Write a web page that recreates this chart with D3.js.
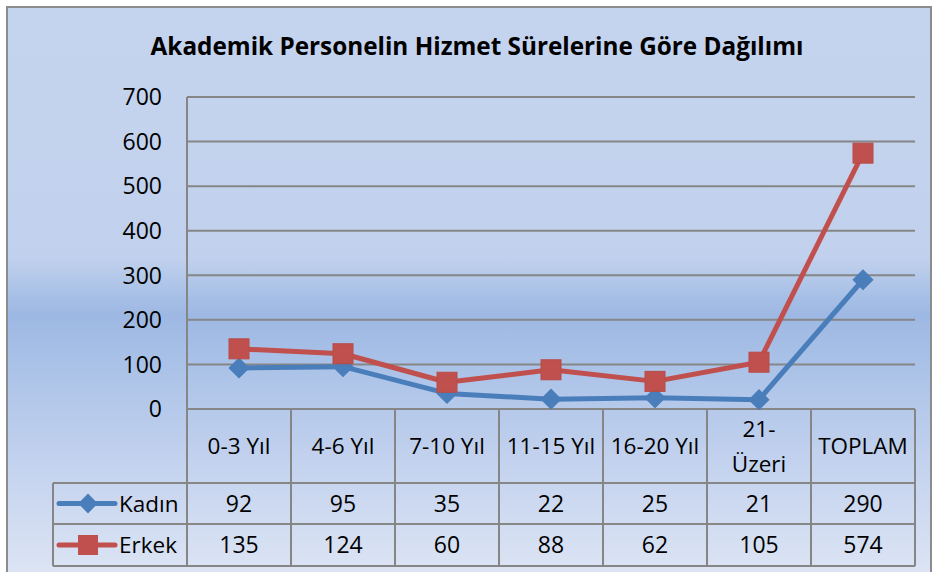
<!DOCTYPE html>
<html><head><meta charset="utf-8">
<script src="https://cdn.jsdelivr.net/npm/d3@7"></script>
<style>html,body{margin:0;padding:0;background:#fff}svg{display:block}</style>
</head><body>
<svg id="c" width="933" height="572"></svg>
<script>
const title = "Akademik Personelin Hizmet Sürelerine Göre Dağılımı";
const categories = ["0-3 Yıl","4-6 Yıl","7-10 Yıl","11-15 Yıl","16-20 Yıl","21-\nÜzeri","TOPLAM"];
const kadin = [92,95,35,22,25,21,290];
const erkek = [135,124,60,88,62,105,574];
const seriesNames = ["Kadın","Erkek"];
const seriesColors = ["#4A7EBB","#C0504D"];
const yTicks = [0,100,200,300,400,500,600,700];

const font = "'Open Sans', 'DejaVu Sans', sans-serif";
const svg = d3.select("#c");
const L = 187, R = 915, T = 97, B = 409;
const rowTop = 483, rowMid = 524, rowBot = 566, legLeft = 53;

// background gradient
const defs = svg.append("defs");
const g = defs.append("linearGradient").attr("id","bg").attr("x1",0).attr("y1",0).attr("x2",0).attr("y2",1);
[[0,"#C5D4EE"],[0.44,"#C1D1ED"],[0.51,"#A6BFE6"],[0.54,"#9DB8E3"],[0.62,"#A9C1E7"],[0.8,"#C3D2EE"],[1,"#DDE5F4"]]
  .forEach(([o,c])=>g.append("stop").attr("offset",o).attr("stop-color",c));

svg.append("rect").attr("x",7).attr("y",7).attr("width",924).attr("height",570)
  .attr("fill","url(#bg)").attr("stroke","#8C8C8C").attr("stroke-width",2);

// title
const tt = svg.append("text").attr("x",477).attr("y",55).attr("text-anchor","middle")
  .attr("font-family",font).attr("font-weight","bold").attr("font-size",22).attr("fill","#000").text(title);
const tl = tt.node().getComputedTextLength();
tt.attr("font-size", 22*653/tl);

const x = d3.scaleBand().domain(categories).range([L,R]);
const cx = c => x(c) + x.bandwidth()/2;
const y = d3.scaleLinear().domain([0,700]).range([B,T]);

const gridC = "#868686";
svg.append("g").selectAll("line").data(yTicks.filter(d=>d>0)).join("line")
  .attr("x1",L).attr("x2",R).attr("y1",d=>y(d)).attr("y2",d=>y(d))
  .attr("stroke",gridC).attr("stroke-width",2);

svg.append("g").selectAll("text").data(yTicks).join("text")
  .attr("x",162).attr("y",d=>y(d)).attr("dy","0.36em").attr("text-anchor","end")
  .attr("font-family",font).attr("font-size",23).attr("fill","#000").text(d=>d);

const tg = svg.append("g").attr("stroke",gridC).attr("stroke-width",2);
tg.append("line").attr("x1",L).attr("x2",R).attr("y1",B).attr("y2",B);
[rowTop,rowMid,rowBot].forEach(yy=>tg.append("line").attr("x1",legLeft).attr("x2",R).attr("y1",yy).attr("y2",yy));
tg.append("line").attr("x1",L).attr("x2",L).attr("y1",T).attr("y2",rowBot);
tg.append("line").attr("x1",legLeft).attr("x2",legLeft).attr("y1",rowTop).attr("y2",rowBot);
categories.forEach(c=>{
  tg.append("line").attr("x1",x(c)+x.bandwidth()).attr("x2",x(c)+x.bandwidth()).attr("y1",B).attr("y2",rowBot);
});

categories.forEach(c=>{
  const lines = c.split("\n");
  const t = svg.append("text").attr("x",cx(c)).attr("text-anchor","middle")
    .attr("font-family",font).attr("font-size",22.5).attr("fill","#000");
  const yc = (B+rowTop)/2;
  lines.forEach((ln,i)=>{
    t.append("tspan").attr("x",cx(c)).attr("y", yc + (i-(lines.length-1)/2)*35).attr("dy","0.36em").text(ln);
  });
});

const rows = [[kadin,(rowTop+rowMid)/2],[erkek,(rowMid+rowBot)/2]];
rows.forEach(([vals,yc])=>{
  svg.append("g").selectAll("text").data(vals).join("text")
    .attr("x",(d,i)=>cx(categories[i])).attr("y",yc).attr("dy","0.36em").attr("text-anchor","middle")
    .attr("font-family",font).attr("font-size",23).attr("fill","#000").text(d=>d);
});

const line = d3.line().x((d,i)=>cx(categories[i])).y(d=>y(d));
[kadin,erkek].forEach((vals,si)=>{
  svg.append("path").datum(vals).attr("d",line).attr("fill","none")
    .attr("stroke",seriesColors[si]).attr("stroke-width",5).attr("stroke-linejoin","round");
});
svg.append("g").selectAll("rect").data(kadin).join("rect")
  .attr("x",-7).attr("y",-7).attr("width",14).attr("height",14)
  .attr("transform",(d,i)=>`translate(${cx(categories[i])},${y(d)}) rotate(45)`)
  .attr("fill",seriesColors[0]).attr("stroke",seriesColors[0]).attr("stroke-width",1);
svg.append("g").selectAll("rect").data(erkek).join("rect")
  .attr("x",(d,i)=>cx(categories[i])-10).attr("y",d=>y(d)-10).attr("width",20).attr("height",20)
  .attr("fill",seriesColors[1]).attr("stroke","#B84A47").attr("stroke-width",1);

const legRows = [(rowTop+rowMid)/2,(rowMid+rowBot)/2];
legRows.forEach((yc,si)=>{
  svg.append("line").attr("x1",59).attr("x2",115).attr("y1",yc).attr("y2",yc)
    .attr("stroke",seriesColors[si]).attr("stroke-width",5).attr("stroke-linecap","round");
  if(si===0){
    svg.append("rect").attr("x",-7).attr("y",-7).attr("width",14).attr("height",14)
      .attr("transform",`translate(88,${yc}) rotate(45)`).attr("fill",seriesColors[0]);
  } else {
    svg.append("rect").attr("x",78).attr("y",yc-10).attr("width",20).attr("height",20).attr("fill",seriesColors[1]);
  }
  svg.append("text").attr("x",119).attr("y",yc).attr("dy","0.36em")
    .attr("font-family",font).attr("font-size",22.5).attr("fill","#000").text(seriesNames[si]);
});
</script>
</body></html>
